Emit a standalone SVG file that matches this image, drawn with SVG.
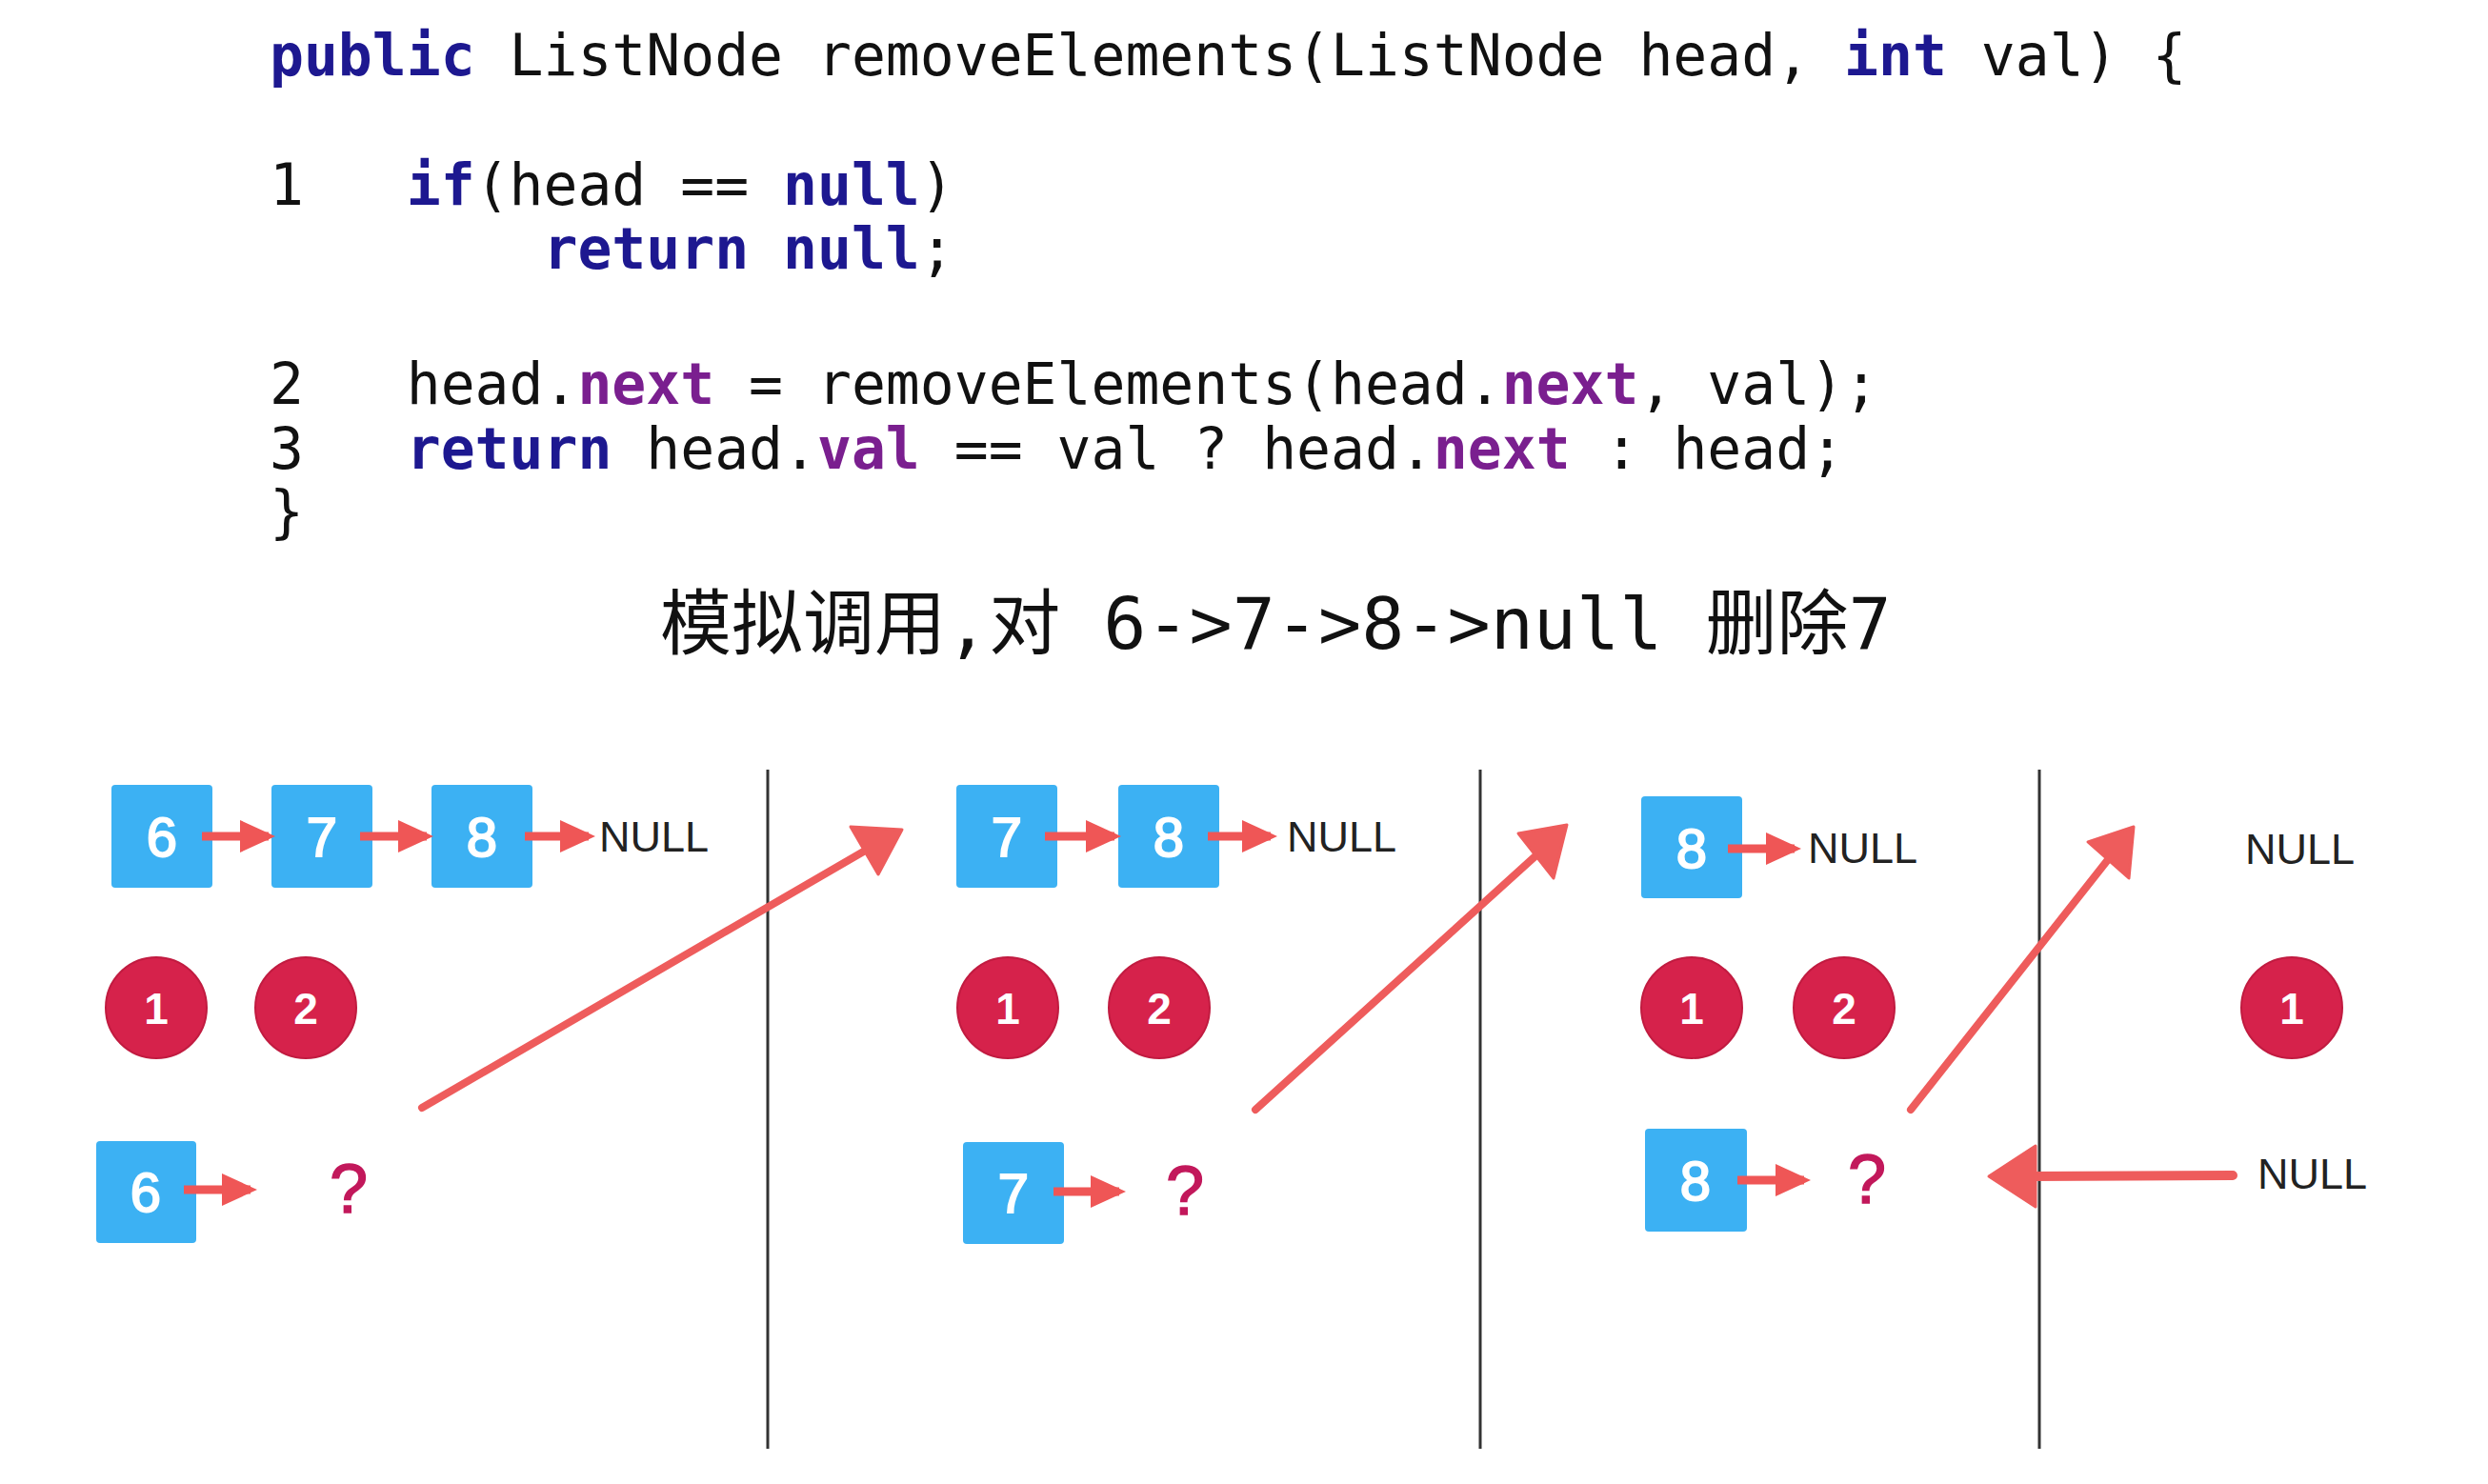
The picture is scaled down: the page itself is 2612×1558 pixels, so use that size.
<svg xmlns="http://www.w3.org/2000/svg" width="2612" height="1558" viewBox="0 0 2612 1558">
<defs>
<style>
.code{font-family:"DejaVu Sans Mono","Liberation Mono",monospace;font-size:59.7px;fill:#111;white-space:pre}
.kw{font-weight:bold;fill:#1d1890}
.fd{font-weight:bold;fill:#7a1f8f}
.title{font-family:"DejaVu Sans Mono","Noto Sans CJK SC",monospace;font-size:75px;fill:#111;white-space:pre}
.box{fill:#3cb1f3}
.bt{font-family:"Liberation Sans",Arial,sans-serif;font-size:58px;fill:#fff;stroke:#fff;stroke-width:2;text-anchor:middle}
.circ{fill:#d6224b;stroke:#c11b40;stroke-width:2}
.ct{font-family:"Liberation Sans",Arial,sans-serif;font-size:46px;font-weight:bold;fill:#fff;text-anchor:middle}
.null{font-family:"Liberation Sans",Arial,sans-serif;font-size:45px;fill:#222}
.q{font-family:"Liberation Sans",Arial,sans-serif;font-size:72px;fill:#c2185b;stroke:#c2185b;stroke-width:1.5;text-anchor:middle}
.sep{stroke:#333;stroke-width:3}
.sa{stroke:#ef5656;stroke-width:9;fill:none}
.ba{stroke:#ee5c5c;stroke-width:8;stroke-linecap:round;fill:none}
.bh{fill:#ee5c5c;stroke:#ee5c5c;stroke-width:3;stroke-linejoin:round}
</style>
<marker id="ah" markerUnits="userSpaceOnUse" markerWidth="37" markerHeight="34" refX="30" refY="17" orient="auto">
<path d="M0,0 L37,17 L0,34 z" fill="#ef5656"/>
</marker>
</defs>
<rect width="2612" height="1558" fill="#fff"/>

<g id="code">
<text class="code" xml:space="preserve" x="283" y="79"><tspan class="kw">public</tspan> ListNode removeElements(ListNode head, <tspan class="kw">int</tspan> val) {</text>
<text class="code" xml:space="preserve" x="283" y="215">1   <tspan class="kw">if</tspan>(head == <tspan class="kw">null</tspan>)</text>
<text class="code" xml:space="preserve" x="283" y="282">        <tspan class="kw">return</tspan> <tspan class="kw">null</tspan>;</text>
<text class="code" xml:space="preserve" x="283" y="424">2   head.<tspan class="fd">next</tspan> = removeElements(head.<tspan class="fd">next</tspan>, val);</text>
<text class="code" xml:space="preserve" x="283" y="492">3   <tspan class="kw">return</tspan> head.<tspan class="fd">val</tspan> == val ? head.<tspan class="fd">next</tspan> : head;</text>
<text class="code" xml:space="preserve" x="283" y="558">}</text>
</g>

<g id="title">
<text class="title" x="693" y="681" xml:space="preserve">模拟调用,对 6-&gt;7-&gt;8-&gt;null 删除7</text>
</g>

<g id="separators">
<line class="sep" x1="806" y1="808" x2="806" y2="1521"/>
<line class="sep" x1="1554" y1="808" x2="1554" y2="1521"/>
<line class="sep" x1="2141" y1="808" x2="2141" y2="1521"/>
</g>

<g id="p1-node6"><rect class="box" x="117" y="824" width="106" height="108" rx="4"/><text class="bt" x="170" y="899">6</text></g>
<g id="p1-node7"><rect class="box" x="285" y="824" width="106" height="108" rx="4"/><text class="bt" x="338" y="899">7</text></g>
<g id="p1-node8"><rect class="box" x="453" y="824" width="106" height="108" rx="4"/><text class="bt" x="506" y="899">8</text></g>
<g id="p1-null"><text class="null" x="629" y="894">NULL</text></g>
<g id="p1-c1"><circle class="circ" cx="164" cy="1058" r="53"/><text class="ct" x="164" y="1075">1</text></g>
<g id="p1-c2"><circle class="circ" cx="321" cy="1058" r="53"/><text class="ct" x="321" y="1075">2</text></g>
<g id="p1-head"><rect class="box" x="101" y="1198" width="105" height="107" rx="4"/><text class="bt" x="153" y="1272">6</text></g>
<g id="p1-q"><text class="q" x="366" y="1273">?</text></g>

<g id="p2-node7"><rect class="box" x="1004" y="824" width="106" height="108" rx="4"/><text class="bt" x="1057" y="899">7</text></g>
<g id="p2-node8"><rect class="box" x="1174" y="824" width="106" height="108" rx="4"/><text class="bt" x="1227" y="899">8</text></g>
<g id="p2-null"><text class="null" x="1351" y="894">NULL</text></g>
<g id="p2-c1"><circle class="circ" cx="1058" cy="1058" r="53"/><text class="ct" x="1058" y="1075">1</text></g>
<g id="p2-c2"><circle class="circ" cx="1217" cy="1058" r="53"/><text class="ct" x="1217" y="1075">2</text></g>
<g id="p2-head"><rect class="box" x="1011" y="1199" width="106" height="107" rx="4"/><text class="bt" x="1064" y="1273">7</text></g>
<g id="p2-q"><text class="q" x="1244" y="1275">?</text></g>

<g id="p3-node8"><rect class="box" x="1723" y="836" width="106" height="107" rx="4"/><text class="bt" x="1776" y="911">8</text></g>
<g id="p3-null"><text class="null" x="1898" y="906">NULL</text></g>
<g id="p3-c1"><circle class="circ" cx="1776" cy="1058" r="53"/><text class="ct" x="1776" y="1075">1</text></g>
<g id="p3-c2"><circle class="circ" cx="1936" cy="1058" r="53"/><text class="ct" x="1936" y="1075">2</text></g>
<g id="p3-head"><rect class="box" x="1727" y="1185" width="107" height="108" rx="4"/><text class="bt" x="1780" y="1260">8</text></g>
<g id="p3-q"><text class="q" x="1960" y="1263">?</text></g>

<g id="p4-null-top"><text class="null" x="2357" y="907">NULL</text></g>
<g id="p4-c1"><circle class="circ" cx="2406" cy="1058" r="53"/><text class="ct" x="2406" y="1075">1</text></g>
<g id="p4-null-bottom"><text class="null" x="2370" y="1248">NULL</text></g>

<g id="connectors">
<line class="sa" x1="212" y1="878" x2="282" y2="878" marker-end="url(#ah)"/>
<line class="sa" x1="378" y1="878" x2="448" y2="878" marker-end="url(#ah)"/>
<line class="sa" x1="551" y1="878" x2="618" y2="878" marker-end="url(#ah)"/>
<line class="sa" x1="193" y1="1249" x2="263" y2="1249" marker-end="url(#ah)"/>
<line class="sa" x1="1097" y1="878" x2="1170" y2="878" marker-end="url(#ah)"/>
<line class="sa" x1="1268" y1="878" x2="1334" y2="878" marker-end="url(#ah)"/>
<line class="sa" x1="1106" y1="1251" x2="1175" y2="1251" marker-end="url(#ah)"/>
<line class="sa" x1="1814" y1="891" x2="1884" y2="891" marker-end="url(#ah)"/>
<line class="sa" x1="1824" y1="1239" x2="1894" y2="1239" marker-end="url(#ah)"/>

<line class="ba" x1="443" y1="1163" x2="910" y2="892"/>
<polygon class="bh" points="947,871 893,868 922,918"/>
<line class="ba" x1="1318" y1="1165" x2="1615" y2="896"/>
<polygon class="bh" points="1645,866 1594,875 1631,922"/>
<line class="ba" x1="2006" y1="1165" x2="2215" y2="900"/>
<polygon class="bh" points="2240,868 2192,884 2235,922"/>
<line class="ba" x1="2344" y1="1234" x2="2130" y2="1235" style="stroke-width:10"/>
<polygon class="bh" points="2088,1235 2137,1203 2137,1267"/>
</g>
</svg>
